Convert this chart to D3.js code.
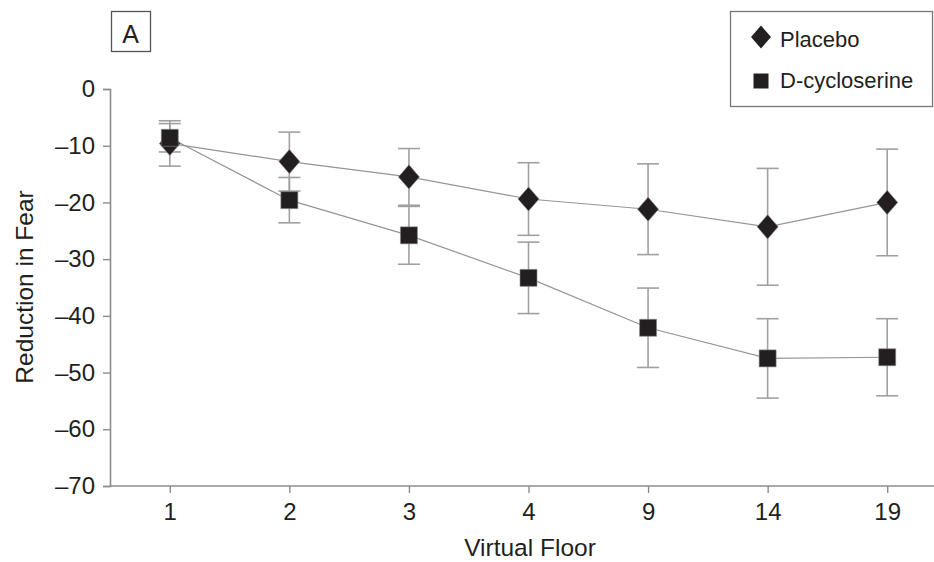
<!DOCTYPE html>
<html>
<head>
<meta charset="utf-8">
<script src="https://cdn.jsdelivr.net/npm/d3@7"></script>
<style>
  html, body { margin: 0; padding: 0; background: #fff; }
  svg { display: block; }
  text { font-family: "Liberation Sans", Arial, "DejaVu Sans", sans-serif; fill: #231f20; }
</style>
</head>
<body>
<svg id="chart" width="934" height="562"></svg>
<script>
// Virtual floors visited during exposure
const floors = ["1", "2", "3", "4", "9", "14", "19"];

// Mean reduction in fear per floor, with error half-widths
const placeboMean = [-9.6, -12.8, -15.5, -19.4, -21.2, -24.3, -20.0];
const placeboErr  = [4.0, 5.2, 5.0, 6.4, 8.0, 10.3, 9.4];
const dcsMean     = [-8.6, -19.6, -25.8, -33.3, -42.1, -47.5, -47.3];
const dcsErr      = [2.5, 4.0, 5.1, 6.3, 7.0, 7.0, 6.8];

const yTicks = [0, -10, -20, -30, -40, -50, -60, -70];
const seriesNames = ["Placebo", "D-cycloserine"];

const svg = d3.select("#chart");
const plotLeft = 110, plotTop = 89, plotBottom = 486, plotRight = 947;

const x = d3.scalePoint().domain(floors).range([plotLeft, plotRight]).padding(0.5);
const y = d3.scaleLinear().domain([-70, 0]).range([plotBottom, plotTop]);

const axisColor = "#8c8c8c";
const fmt = d => d === 0 ? "0" : "\u2013" + Math.abs(d);

// Slightly taller-than-wide diamond marker
const tallDiamond = {
  draw(ctx, size) {
    const w = Math.sqrt(size) * 0.5, h = w * 1.15;
    ctx.moveTo(0, -h); ctx.lineTo(w, 0); ctx.lineTo(0, h); ctx.lineTo(-w, 0); ctx.closePath();
  }
};

// Y axis
const gy = svg.append("g").attr("transform", `translate(${plotLeft},0)`)
  .call(d3.axisLeft(y).tickValues(yTicks).tickSize(7).tickPadding(8).tickFormat(fmt));
gy.select(".domain").attr("stroke", axisColor).attr("stroke-width", 1.6);
gy.selectAll(".tick line").attr("stroke", axisColor).attr("stroke-width", 1.4);
gy.selectAll(".tick text").attr("font-size", 24).attr("fill", "#231f20");

// X axis
const gx = svg.append("g").attr("transform", `translate(0,${plotBottom})`)
  .call(d3.axisBottom(x).tickSize(7).tickPadding(10).tickSizeOuter(0));
gx.select(".domain").attr("stroke", axisColor).attr("stroke-width", 1.6)
  .attr("d", `M${plotLeft},0H934`);
gx.selectAll(".tick line").attr("stroke", axisColor).attr("stroke-width", 1.4);
gx.selectAll(".tick text").attr("font-size", 24).attr("fill", "#231f20");

// Axis titles
svg.append("text").attr("x", 530).attr("y", 556).attr("text-anchor", "middle")
  .attr("font-size", 24.5).text("Virtual Floor");
svg.append("text").attr("transform", "translate(33,287) rotate(-90)")
  .attr("text-anchor", "middle").attr("font-size", 24.5).text("Reduction in Fear");

// Series drawing
const series = [
  { name: seriesNames[0], mean: placeboMean, err: placeboErr, symbol: tallDiamond, size: 440, legendSize: 400 },
  { name: seriesNames[1], mean: dcsMean, err: dcsErr, symbol: d3.symbolSquare, size: 289, legendSize: 225 }
];

const line = d3.line().x((d, i) => x(floors[i])).y(d => y(d));
const cap = 11;

// Error bars first (behind lines and markers)
series.forEach(s => {
  const g = svg.append("g").attr("stroke", "#a0a0a0").attr("stroke-width", 1.6);
  s.mean.forEach((m, i) => {
    const cx = x(floors[i]);
    const y0 = y(m + s.err[i]), y1 = y(m - s.err[i]);
    g.append("line").attr("x1", cx).attr("x2", cx).attr("y1", y0).attr("y2", y1);
    g.append("line").attr("x1", cx - cap).attr("x2", cx + cap).attr("y1", y0).attr("y2", y0);
    g.append("line").attr("x1", cx - cap).attr("x2", cx + cap).attr("y1", y1).attr("y2", y1);
  });
});

series.forEach(s => {
  svg.append("path").datum(s.mean).attr("d", line)
    .attr("fill", "none").attr("stroke", "#959595").attr("stroke-width", 1.2);
});

series.forEach(s => {
  svg.append("g").selectAll("path").data(s.mean).join("path")
    .attr("transform", (d, i) => `translate(${x(floors[i])},${y(d)})`)
    .attr("d", d3.symbol().type(s.symbol).size(s.size))
    .attr("fill", "#231f20").attr("stroke", "#8a8a8a").attr("stroke-width", 0.6);
});

// Panel label
svg.append("rect").attr("x", 111.5).attr("y", 11.5).attr("width", 39).attr("height", 40)
  .attr("fill", "#fff").attr("stroke", "#555").attr("stroke-width", 1.3);
svg.append("text").attr("x", 130.5).attr("y", 43).attr("text-anchor", "middle")
  .attr("font-size", 25).text("A");

// Legend
const lg = svg.append("g");
lg.append("rect").attr("x", 730.5).attr("y", 11.5).attr("width", 202).attr("height", 95)
  .attr("fill", "#fff").attr("stroke", "#777").attr("stroke-width", 1.3);
series.forEach((s, i) => {
  const cy = i === 0 ? 37 : 81;
  lg.append("path").attr("transform", `translate(761,${cy})`)
    .attr("d", d3.symbol().type(s.symbol).size(s.legendSize))
    .attr("fill", "#231f20");
  lg.append("text").attr("x", 780).attr("y", cy + (i === 0 ? 10 : 7)).attr("font-size", 22).text(s.name);
});
</script>
</body>
</html>
